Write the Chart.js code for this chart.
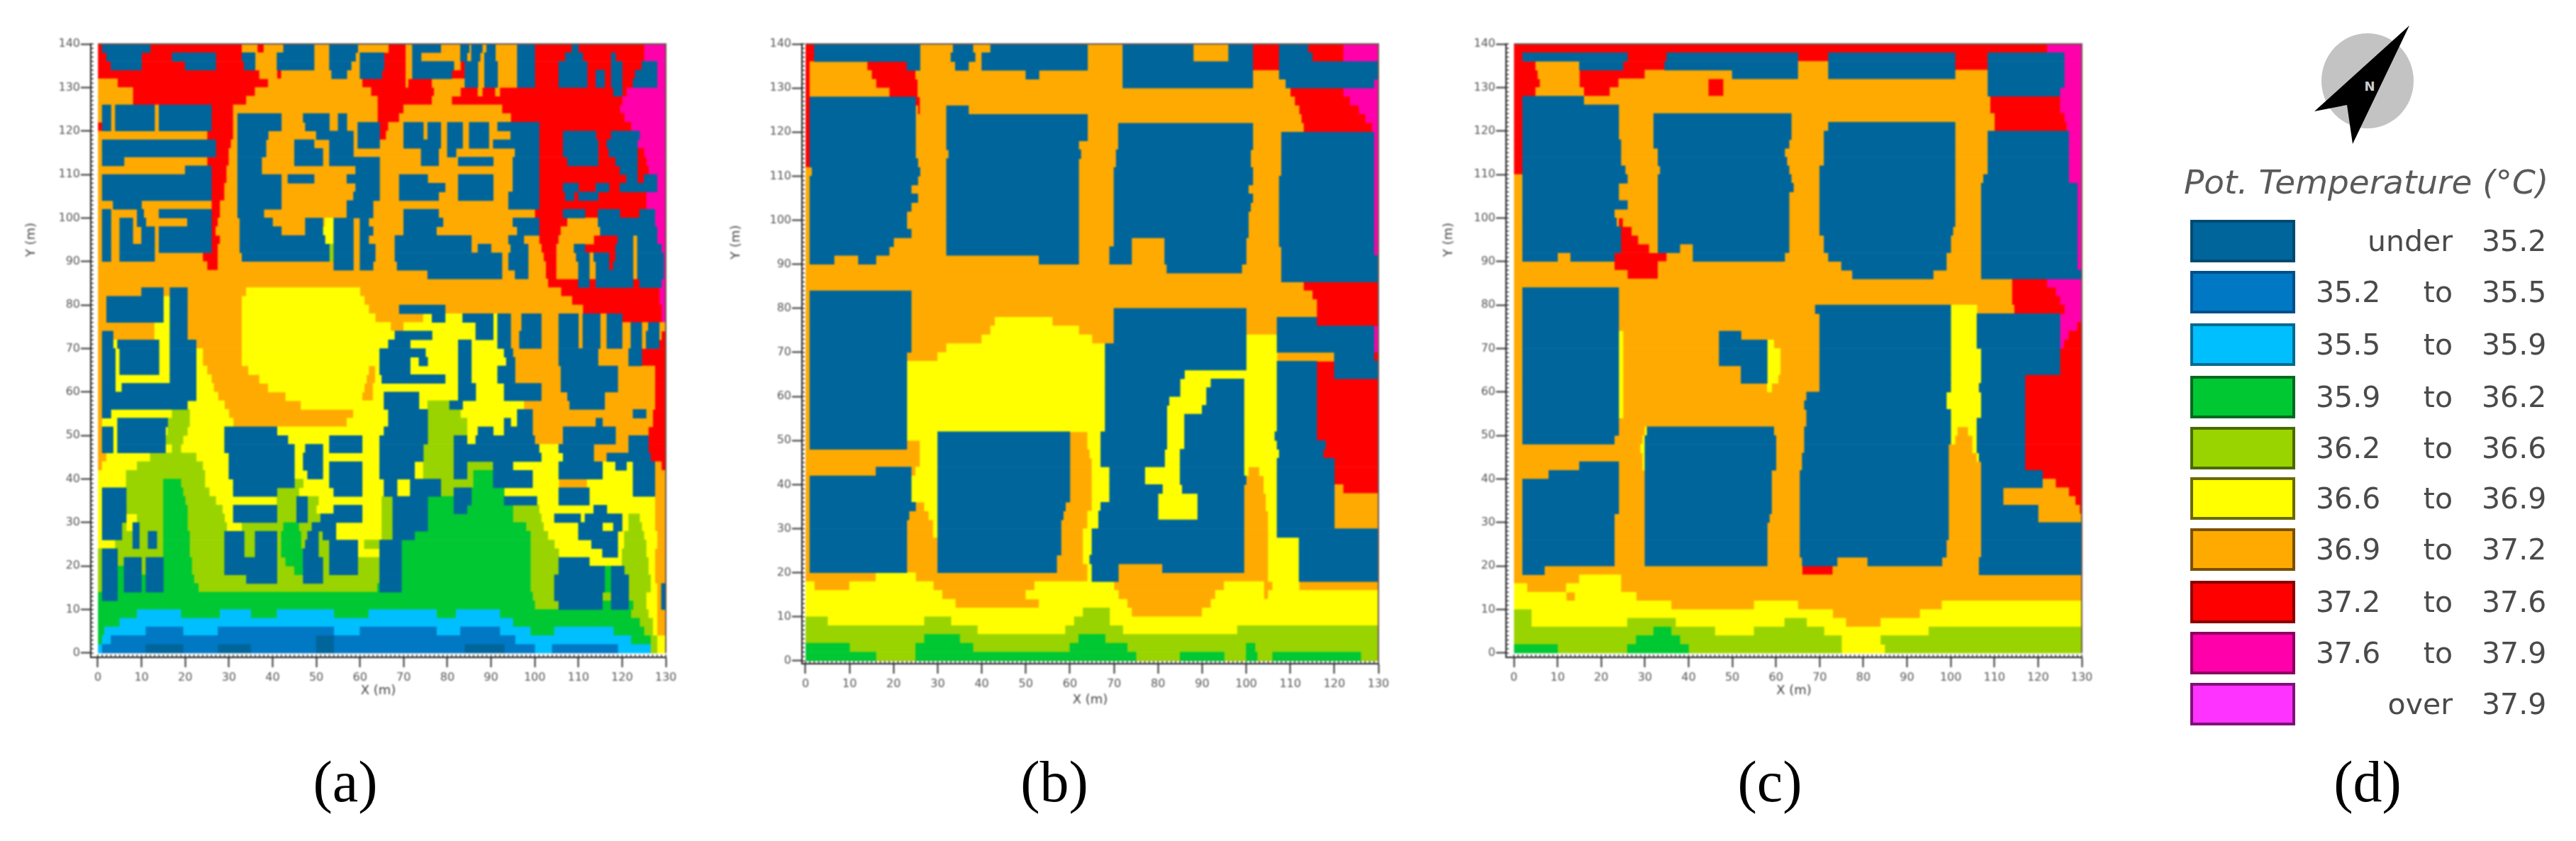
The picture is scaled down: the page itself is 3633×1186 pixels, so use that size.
<!DOCTYPE html>
<html>
<head>
<meta charset="utf-8">
<title>Pot. Temperature</title>
<script src="https://cdn.jsdelivr.net/npm/chart.js@4"></script>
<style>
  html, body { margin: 0; padding: 0; background: #fff; width: 3633px; height: 1186px; overflow: hidden; }
  canvas { position: absolute; top: 0; filter: blur(0.8px); }
  .cap { position: absolute; top: 1056px; font: 82px "Liberation Serif", serif; color: #000; transform: translateX(-50%); white-space: nowrap; }
  .txt { position: absolute; font: 41px "DejaVu Sans", sans-serif; color: #4a4a4a; white-space: nowrap; line-height: 50px; filter: blur(0.7px); }
  .sw { position: absolute; left: 3089px; width: 140px; height: 52px; border: 4px solid; }
  svg { position: absolute; left: 3240px; top: 20px; }
</style>
</head>
<body>
<canvas id="panelA" width="969" height="985" style="left:0px"></canvas>
<canvas id="panelB" width="971" height="998" style="left:1003px"></canvas>
<canvas id="panelC" width="970" height="985" style="left:1996px"></canvas>

<svg width="180" height="200" viewBox="3240 20 180 200">
  <ellipse cx="3339" cy="114" rx="65" ry="67" fill="#c3c3c3"/>
  <polygon points="3398,36 3318,203 3310,148 3264,157" fill="#000"/>
  <text x="3342" y="128" font-family="DejaVu Sans" font-weight="bold" font-size="18" fill="#ccc" text-anchor="middle">N</text>
</svg>

<script>
// temperature classes, one letter each, used by the rows below
const classKeys = ["B", "D", "C", "G", "L", "Y", "O", "R", "M", "P"];
const classColors = ["#00659b", "#0078c4", "#00bfff", "#00c832", "#99d400", "#ffff00", "#ffaa00", "#ff0000", "#ff00aa", "#ff33ff"];
const legendBorders = ["#004a70", "#00508a", "#006a90", "#006a20", "#4a6a00", "#6a6a00", "#7a5000", "#8a0000", "#8a0060", "#80107a"];
const legendLow = ["", "35.2", "35.5", "35.9", "36.2", "36.6", "36.9", "37.2", "37.6", ""];
const legendWord = ["under", "to", "to", "to", "to", "to", "to", "to", "to", "over"];
const legendHigh = ["35.2", "35.5", "35.9", "36.2", "36.6", "36.9", "37.2", "37.6", "37.9", "37.9"];
const legendTitle = "Pot. Temperature (°C)";

const xTicks = [0, 10, 20, 30, 40, 50, 60, 70, 80, 90, 100, 110, 120, 130];
const yTicks = [0, 10, 20, 30, 40, 50, 60, 70, 80, 90, 100, 110, 120, 130, 140];

// each row is 2 m high, top row first (y = 139 down to y = 1)
// "B0 R12" means class B from x=0 m, class R from x=12 m and so on
const rowsA = [
  "R0 B1 R12 O33 R36.5 O38 B42.5 O49.5 B53 O59.5 R66.5 O70.5 B72 O78.5 B83 O85 B85.5 O88 B89 O91 B96 R100 B108.5 R110 M125",
  "R0 B2 R10 B17 R27 B33 O36 B41 O49.5 B53 O59 B60 R65.5 O70.5 B72 O74 B83 O84.5 B85.5 O87.5 B88.5 O91 B96 R100 B107 R111 B117.5 R118.5 M125",
  "R0 B3 R10 B20 R27 B33.5 O36 B41 O49.5 B53 O58 B60 R65.5 O70.5 B72 O81.5 R83 B84 O87 B88.5 O91.5 B96 R100 B105.5 R112 B117.5 R120 B124.5 M128",
  "R0 O37 R41 O42 B53.5 O57 B60 R65 O70.5 B72 R81 B84 O87 B88.5 O91.5 B96 R100 B105.5 R112 B114 R116 B117.5 R120 B123 M128",
  "O0 R4.5 O39 R60.5 O70.5 R71 O76.5 B84 O87 B88.5 O91.5 B96 R100 B105.5 R112 B114 R116 B117.5 R120 B122.5 M128",
  "O0 R8 O36 R62.5 O77 R83 O87 R88 O91 R92 B118 R120 M121",
  "O0 R8 O34 R64 O76.5 R81 M120",
  "O0 B1 O3 B4 O13 B14 R26 O31 R64 O70 R92.5 M119.5",
  "O0 B1 O3 B4 O13 B14 R26 O31 B32 O42 B47 O53 B55 O57 R64 O69 R94.5 M120.5",
  "R0 B1 O3 B4 O13 B14 R26 O31 B32 O42 B47.5 O53 B55 O57 B59.5 R64.5 O66.5 B70 O74.5 B75.5 O78.5 B80 O83.5 B85 O89.5 B91.5 R101 M122",
  "O0 R25 O31 B32 O39 B50 O58.5 B59.5 R64.5 O66 B70 O74.5 B75.5 O78.5 B80 O83.5 B85 O89.5 B94.5 R101 B106.5 R114 B117.5 M124",
  "O0 B1 R27 O30.5 B32 O38.5 B45 O49.5 B53 O58.5 B59.5 O64.5 B70 O78.5 B80 O83.5 B85 O89.5 B90.5 R101 B106.5 R114.5 B116.5 M123.5",
  "O0 B1 R27 O30 B32 O38.5 B45 O51.5 B53 O58.5 B74 O78 B80 O82 B95.5 R101 B106.5 R114.5 B117 R123.5 M125",
  "O0 B1 O6 R25 O30 B32 O37.5 B45 O51.5 B53 O64.5 B74 O78 B82.5 O90.5 B95 R101 B107.5 R114.5 B118.5 R123.5 M125.5",
  "O0 B20 R26 O29.5 B32 O37.5 B59 O64.5 B95 R101 B119.5 R123.5 M126",
  "O0 B1 R26 O29.5 B32 O42 B43.5 O49.5 B57 O64.5 B69 O75.5 B82.5 O90.5 B95 R101 B121 R123.5 B125 M128",
  "O0 B1 R26 O29 B32 O42 B59 O64.5 B69 O79.5 B82.5 O90.5 B95 R101 B106.5 R110 B114 R117 B119.5 M128",
  "O0 B1 R26 O29 B32 O42 B58.5 O64.5 B69 O78 B82.5 O90.5 B94 R101 B107 R109 B110 R114.5 M125.5",
  "O0 B3.5 O10 R26 O28 B32 O42 B57 O63 B94 R101 M125.5",
  "O0 B1 O3 B9 O10.5 B14 R26 O28 B32 O38 B57 O63 B70 O78 R100 B106.5 R111.5 B114.5 R119.5 B124 M127.5",
  "O0 B1 O3 B5 O8 B9 O11 B20.5 R26 O27.5 B32.5 O40 B47.5 O51.5 Y52 B54 O58.5 B60 O62 B70 O79 B95 R101 O107.5 B114.5 M127.5",
  "O0 B1 O3 B5 O8 B10 O13 B14 R26 O27 B32.5 O42 B47.5 Y51.5 B54 O58.5 B60 O63 B70 O77.5 B96 R101 O106 B115 M128",
  "O0 B1 O3 B5 O8 B10 O13 B14 R26 O28 B32.5 Y52 B54 O58.5 B60 O62 B68 O85.5 B94 O97.5 R101 O105.5 R113.5 B119 O122.5 B123.5 M128",
  "O0 B1 O3 B5 O13 B14 R26 O27.5 B32.5 L53 B54 O58.5 B60 O63.5 B68 O85.5 B87 O90 B94.5 O98.5 R101.5 O105 B109 R111.5 B118.5 O122.5 B123.5 M129",
  "O0 B1 O3 B5 O13 R24 O27.5 B33 L53 B54 O58.5 B60 O63.5 B68 O92.5 B94 O98.5 R102 O105 B109.5 O112.5 B113.5 R117 B118.5 O122.5 B123.5 M129.5",
  "O0 R25 O27.5 B54 O58.5 B60 O63 B68.5 O92.5 B94 O98.5 R102.5 O105 B110 O112.5 B114 R117 B118 O122.5 B123.5 M129.5",
  "O0 B75.5 O92.5 B95.5 O98.5 R102.5 O105 B110 O112.5 B114 O122.5 B123.5 M129.5",
  "O0 R103 B110 R112.5 B114 R122.5 B124 M129",
  "O0 B10 O15 B16.5 O20.5 Y34 O60 R106 M128.5",
  "O0 B2 Y15 B16.5 O20.5 Y33 O61 R108.5 M128.5",
  "O0 B2 Y15 B16.5 O20.5 Y33 O62 B69 O79.5 R111 M129",
  "O0 B2 Y15 B16.5 O20.5 Y33 O63.5 Y74.5 B76.5 Y79.5 B83.5 Y90.5 B91.5 O94.5 B97 O101.5 B105.5 O110 B111 O115 B116.5 R120 M129",
  "O0 Y13 B16.5 O20.5 Y33 O67 Y70 B86.5 Y90.5 B91.5 O94.5 B97 O101.5 B105.5 O110 B111 O115 B116.5 O120 B122 O124.5 B126 O128.5",
  "O0 B1 O3.5 Y13 B16.5 O20.5 Y33 B68 Y76.5 B86.5 Y90.5 B91.5 O94.5 B96.5 O101.5 B105.5 O110 B111 O115 B116.5 O120 B122 O124.5 B125.5 O128.5 R129",
  "O0 B1 Y3.5 B4.5 Y14 B16.5 O22.5 Y33 B66.5 Y71.5 B82.5 Y85.5 B91.5 O94.5 B96.5 O101.5 B105.5 O110 B111 O115 B116.5 O120 B122 O124.5 B125.5 R128.5",
  "O0 B1 Y4 B5 Y14 B16.5 Y22.5 O24 Y33 B64.5 Y75 B82.5 Y85.5 B93 O95 B105.5 O114.5 B121.5 R124.5",
  "O0 B1 Y4 B5 Y14 B16.5 Y22.5 O24 Y33 B64.5 Y71.5 B73.5 Y75.5 B82.5 Y85.5 B93.5 O95.5 B105.5 O114.5 B121.5 R124.5",
  "O0 B1 Y4 B5 Y14 B16.5 Y22.5 O25 Y34.5 O62 Y63.5 B64.5 Y71.5 B82.5 Y85.5 B91.5 O95.5 B106 O119 R127.5",
  "O0 B1 Y4 B16.5 Y22.5 O26 Y37 O61.5 Y63.5 B65 Y79.5 B82.5 Y85.5 B91.5 O95.5 B106 O119 R127.5",
  "O0 B1 Y4 B5.5 Y22.5 O26.5 Y39 O61 Y63 B82.5 Y86.5 B93 O101.5 B106 O119 R127.5",
  "O0 B1 Y22.5 O27.5 Y43 O60.5 Y63 B65.5 Y73.5 B82.5 Y86.5 B93 O101.5 B107.5 O116 R127.5",
  "O0 B1 Y20.5 O29 Y46.5 B65.5 Y73.5 L75.5 B80.5 Y83.5 O97.5 B108 O116 R127.5",
  "O0 B1 Y3 L17 Y21 O30 Y58.5 B66.5 L75.5 Y83 B96 O99.5 B122.5 O125.5 R127",
  "O0 Y1 B4.5 L16 Y21 O31 Y57 B66.5 L75.5 Y84.5 B93 Y94.5 B96 O99.5 B114 O115.5 R127",
  "O0 B1 Y3.5 B4.5 Y15.5 L16 Y20.5 B29 Y41 B65.5 L75.5 Y84.5 B87 Y90.5 B93 O99.5 B106.5 O118.5 R126",
  "O0 B1 Y3.5 B4.5 L15.5 Y19.5 B29 Y43.5 B53 Y60.5 B64.5 L75.5 B81.5 Y84.5 B86.5 O100 B106.5 O118.5 B121.5 R126",
  "O0 B1 Y3.5 B4.5 Y15.5 L17 Y19 B29 Y45 B47.5 Y51.5 B53 Y60.5 B64.5 L74.5 B81.5 Y101 B105.5 O113.5 B121.5 R126",
  "O0 Y2 L12 Y22.5 B30 Y45 B47 Y51.5 B64.5 L74.5 B81.5 Y101.5 B106.5 O113.5 B116.5 R126.5",
  "O0 Y1 L9 Y24 B30 Y45 B47 Y51.5 B53 Y60.5 B64.5 Y72.5 L74.5 B81.5 L84.5 B90.5 Y95 B105.5 Y115.5 B118.5 Y121 B122.5 O127.5 R129",
  "Y0 L6.5 Y24.5 B30 Y45 B48 Y51.5 B53 Y60.5 B64.5 Y72.5 L74.5 B81.5 L84.5 G86 B90.5 Y99.5 B105.5 Y115.5 B122.5 O127.5",
  "Y0 L6.5 G15 L19 Y24.5 B31 L45 Y47 B53 Y60.5 B65.5 Y68.5 B71.5 L78.5 G86 B90.5 Y99.5 O105.5 Y112 B122.5 O127.5",
  "Y0 B1 L6.5 G15 L19.5 Y25.5 B31 L41 Y46 B54 Y60.5 B65.5 Y68.5 B71.5 L78.5 B81.5 G85.5 Y93 B105.5 Y112.5 B122.5 O127.5",
  "Y0 B1 L6.5 G15 L20 Y27 L41 B45.5 L48 Y50.5 L65 B67.5 G75.5 B81.5 G85.5 B93 Y100.5 B105.5 Y112.5 O127.5",
  "Y0 B1 L6.5 G15 L20.5 Y28.5 B31 L41 B45.5 L48 Y50 B54 Y60.5 L65 B67.5 G75.5 B81.5 G84.5 L95 Y101 B113.5 Y116.5 O127.5",
  "Y0 B1 Y6.5 L9 G15 L20.5 Y29 B31 L41 B45.5 L48 B51 Y60.5 L65 B67.5 G75.5 L95 Y101.5 B104.5 Y110.5 B111.5 Y120 L121.5 Y124 O127.5",
  "Y0 B1 L5.5 Y6.5 B8 L9.5 G15 L20.5 Y29.5 L33 G42.5 L46 B49 Y54.5 L65 B67.5 G75.5 L98 Y102 B110 Y115.5 B118 Y120 L121.5 Y124.5 O127.5",
  "Y0 B1 L5.5 B8 L9.5 B11.5 L13.5 G15 L21 B29 L33.5 B36 L41 G42 L46.5 B48 L50.5 B51.5 Y54.5 L65 B67.5 G72.5 L99 Y103 B110 Y119 L120.5 Y125 O128",
  "Y0 L4 B8 L9.5 B11.5 L13.5 G15 L21 B29 L33.5 B36 L41 G42 L46.5 B47.5 L50.5 B53 Y59.5 L61 B64.5 G69.5 L99 Y104.5 B113 Y119 L120.5 Y125.5 O128",
  "L0 B1 L4.5 G15 L21 B29 L33.5 B36 L41 G42 B47 L50.5 B53 Y59.5 B64.5 G69.5 L99 Y105.5 B115.5 Y119 L120 Y125.5 O127.5",
  "L0 B1 L4.5 B6 L10 B11 G15 L21.5 B29 L41 G43 B47 L51.5 B53 L59.5 B64.5 G69.5 L99 B105.5 Y112.5 L120 Y126 O127.5",
  "L0 B1 G4.5 B6 L10 B11 G15 L21.5 B29 L41 G45 B47 L51.5 B53 L59.5 B64.5 G69.5 L99 B105.5 G116 B117.5 L120.5 Y126 O127.5",
  "L0 B1 G4.5 B6 G10 B11 G15 L22 B34 L41 B47 L51.5 B64.5 G69.5 L99 B104.5 G116 B117.5 L121.5 Y126.5 O127.5",
  "L0 B1 G4.5 B6 G10 B11 G15 L23 G64 B64.5 G69.5 L99 B104.5 G116 B117.5 L121.5 Y126.5 O128 B129",
  "G0 B1 G4.5 L99.5 B104.5 L115.5 B117.5 L121.5 Y125.5 O128 B129",
  "G0 L100 B105.5 G115.5 B117.5 G121.5 L122.5 Y125.5 O128 B129",
  "G0 C9 G19 C28 G35 C41 G54 C62 G77.5 C82 G92 L122 Y126 O128",
  "G0 C5 G95 L124 Y127 O128",
  "G0 C1.5 D11 C19.5 D27.5 C54 D60 C77.5 D83 C92 G99 C104.5 G118 L125 Y127 O128",
  "G0 C1 D3 B50 D54 C95.5 G122 L126.5 Y128",
  "C0 D1 B11 D19.5 B27.5 D35 B50 D54 B84 D93 C100 D104 C119 L126.5 Y128",
];

const rowsB = [
  "R0 B2 O26 B33.5 O38 B42 O64 B72 O88 B96 R101.5 B107.5 R114 M122",
  "R0 B2 O26 B33 O38.5 B40 O64 B72 O88 B96 R101.5 B107.5 R115 M122",
  "R0 O1 R14 B23 O26 B34 O37 B40 O64 B72 R101.5 B107.5",
  "R0 O1 R15 O25 B50 O53 B72 O101.5 B107.5",
  "R0 O1 R16 O25.5 B72 O101.5 B109 M129",
  "R0 O1 R19 O25.5 R110 M122",
  "R0 B1 R25 O26 R111 M123.5",
  "R0 B1 O25 R25.5 O26 B32 O37 R112 M125.5",
  "R0 B1 O25 B32 O64 R112.5 M127",
  "R0 B1 O25 B32 O64 B71 O101.5 R113 M128.5",
  "R0 B1 O25 B32 O64 B71 O101.5 B108 M129",
  "R0 B1 O25 B32 O62 B71 O101.5 B108 M129",
  "R0 B1 O25 B32.5 O62.5 B70.5 O101 B108 M129",
  "R0 B1 O25.5 B32 O62 B70.5 O101 B108 M129",
  "O0 B1.5 O26 B32 O62 B70 O101.5 B108 M129",
  "O0 B1 O25.5 B32 O62 B70 O101.5 B107.5 M129",
  "O0 B1 O24 B32 O62 B70 O100.5 B107.5 M129",
  "O0 B1 O25.5 B32 O62 B70 O101.5 B107.5 M129",
  "O0 B1 O24 B32 O62 B70 O101 B107.5 M129",
  "O0 B1 O23 B32 O62 B70 O100.5 B107.5 M129",
  "O0 B1 O23 B32 O62 B70 O100.5 B107.5 M129",
  "O0 B1 O24 B32 O62 B70 O100.5 B107.5 M129",
  "O0 B1 O20 B32 O62 B70 O74 B81.5 O100 B107.5 M129",
  "O0 B1 O19 B32 O62 B69 O74 B81.5 O100 B108 M129",
  "O0 B1 O6.5 B12 O16 B53 O62 B69 O74 B81.5 O100 B108",
  "O0 B82 O99 B108",
  "O0 B108",
  "O0 R113",
  "O0 B1 O24 R115",
  "O0 B1 O24 R116",
  "O0 B1 O24 B70 O100 R116",
  "O0 B1 O24 Y43 O56 B70 O100 B107 R116",
  "O0 B1 O24 Y42 O62 B70 O100 B107 M129",
  "O0 B1 O24 Y40 O65 B70 Y100 B107 M129",
  "O0 B1 O24 Y32 B68 Y100 B107 M129",
  "O0 B1 O23 Y30 B68 Y100 O107 B120 R129",
  "O0 B1 Y23 B68 Y100 B107 R116 B120",
  "O0 B1 Y23 B68 Y86 B107 R116 B120",
  "O0 B1 Y23 B68 Y85 B92 Y99.5 B107 R116",
  "O0 B1 Y23 B68 Y85 B91 Y99.5 B107 R116",
  "O0 B1 Y23 B68 Y82.5 B91 Y99.5 B107 R116",
  "O0 B1 Y23 B68 Y82 B90 Y99.5 B107 R116",
  "O0 B1 Y23 B68 Y82 B86 Y99.5 B107 R116",
  "O0 B1 Y23 B68 Y82 B86 Y99.5 B107 R116",
  "O0 B1 Y23 B30 O60 Y64 B67 Y82 B86 Y99.5 B106.5 R116",
  "O0 B1 O23 Y26 B30 O60 Y64 B67 Y82 B86 Y99.5 B107 R118",
  "O0 Y26 B30 O60 Y64.5 B67 Y81.5 B85 Y99.5 B107.5 R117.5",
  "O0 Y26 B30 O60 Y65 B67 Y81.5 B85 Y99.5 B107 R120",
  "O0 B16 O24 Y25 B30 O60 Y65 B69 Y77 B85 Y99.5 O100.5 Y103 B107 R120",
  "O0 B1 Y24 B30 O60 Y65 B69 Y77 B85 O100 Y104 B107 R120",
  "O0 B1 Y24 B30 O60 Y65 B69 Y81 B85.5 O99.5 Y104 B107 O120 R122",
  "O0 B1 Y24 B30 O60 Y65 B69 Y80 B89 O99.5 Y104.5 B107 O120",
  "O0 B1 O25 Y27 B30 O59 Y65 B67 Y80 B89 O99.5 Y104.5 B107 O120",
  "O0 B1 O23.5 Y28 B30 O58.5 Y64 B66.5 Y80 B89 O99.5 Y105 B107 O120",
  "O0 B1 O23 Y29 B30 O58 Y64 B66.5 O99.5 Y105 B107 O120",
  "O0 B1 O23 Y29 B30 O58 Y63 B65 O99.5 Y105 B107",
  "O0 B1 O23 B30 O58 Y63 B65 O99.5 Y105 B112",
  "O0 B1 O23 B30 O58 Y63 B65 O99.5 Y105 B112",
  "O0 B1 O23 B30 O57 Y63 B64.5 O99.5 Y105 B112",
  "O0 B1 O23 B30 O57 Y64 B65 O71 B81 O99.5 Y105 B112",
  "O0 Y16 O25 Y64 B65 O71 Y105 B112",
  "Y0 O2 Y10 O29 Y52 O70 Y95 O104 Y106 O112",
  "Y0 O31 Y50 O71 Y93 O104 Y105",
  "Y0 O34 Y53 O73 Y92",
  "Y0 L63 Y69 O74 Y90",
  "L0 Y5 L27 Y33 L61 Y69",
  "L0 Y39 L59 Y72 L98",
  "L0 G27 L35 G62 L68",
  "G0 L10 G25 L38 G60 L73 G100 L102",
  "G0 L16 G25 L75 G85 L95 G100 L102.5 G106 L126",
];

const rowsC = [
  "R0 M122",
  "R0 B2 R26 B35 R65 B72 R101 B108.5 M126",
  "R0 O5 B15 R25 B34.5 O65 B72 R101 B108.5 M126",
  "R0 O5.5 R15 O30 B50 O65 B72 O101 B108.5 M126",
  "R0 O6 R15 O24 R44.5 O48 B108.5 M126",
  "R0 O5 R16 O22 R44.5 O48 B108.5 M125",
  "R0 B2 O16 R109 M125",
  "R0 B2 O24 R109 M125",
  "R0 B2 O24 B32 O63.5 R110 M126",
  "R0 B2 O24 B32 O63.5 B72 O101 R110 M126.5",
  "R0 B2 O24 B32 O63.5 B71 O101 B108.5 M127",
  "R0 B2 O24.5 B32 O63 B71 O101 B108.5 M127",
  "R0 B2 O24.5 B33 O62 B71 O101 B108.5 M127",
  "R0 B2 O24.5 B33 O62.5 B71 O101 B108.5 M127",
  "R0 B2 O25.5 B33.5 O63 B70 O101 B108.5 M127",
  "O0 B2 O26 B33 O63.5 B70 O101 B107.5 M127",
  "O0 B2 O24 B33 O64 B70 O101 B107 M129",
  "O0 B2 O24 B33 O63 B70 O101 B107 M129",
  "O0 B2 O26 B33 O63 B70 O101 B107 M129",
  "O0 B2 O23 B33 O63 B70 O101 B107 M129",
  "O0 B2 O23.5 R24 O25 B33 O63 B70 O101 B107 M129",
  "O0 B2 R24.5 O27 B33 O63 B70 O100.5 B107 M129",
  "O0 B2 R24.5 O28.5 B33 O63 B71 O100 B107 M129",
  "O0 B2 R24.5 O31 B33 O38 B41 O63 B71 O100 B107 M129",
  "O0 B2 O10 B13 R23 O35 B41 O62 B72 O99 B107 M129",
  "O0 R23 O33 B75 O99 B107 M129",
  "O0 R26 O33 B77.5 O96 B107",
  "O0 R114 M122",
  "O0 B2 O24 R114 M124",
  "O0 B2 O24 R114 M125",
  "O0 B2 O24 B69 Y100 O106 R114.5 M126",
  "O0 B2 O24 B70 Y100 B106 M125",
  "O0 B2 O24 B70 Y100 B106 M125 R129",
  "O0 B2 Y24 O25 B47 O52 B70 Y100 B106 M125 R127",
  "O0 B2 Y24 O25 B47 Y58 O59.5 B70 Y100 B106 M125 R126",
  "O0 B2 Y24 O25 B47 Y58 O61 B70 Y100 B107 R125",
  "O0 B2 Y24 O25 B47 Y58 O61 B70 Y100 B107 R125",
  "O0 B2 Y24 O25 B52 Y58 O61 B70 Y100 B107 R125",
  "O0 B2 Y24 O25 B52 Y58 O60.5 B70 Y100 B107 R117",
  "O0 B2 Y24 O25 Y58 O59 B70 Y100 B106.5 R117",
  "O0 B2 Y24 O25 B67 Y99 B107 R117",
  "O0 B2 Y24 O25 B66.5 Y99 B107 R117",
  "O0 B2 Y24 O25 B67 Y100 B107 R117",
  "O0 B2 O24 B67 Y100 B106 R117",
  "O0 B2 O24 Y30 B30.5 O59.5 B66.5 Y100 O101.5 Y104 B106 R117",
  "O0 B2 O23 Y29.5 B30 O60 B66.5 Y100 O101 Y105 B106 R117",
  "O0 Y29 B30 O60 B66.5 O99.5 Y105 B106 R117",
  "O0 Y29.5 B30 O60 B66 O99.5 Y106 B106.5 R117",
  "O0 B15 O24 Y29.5 B30 O60 B66 O99.5 B107 R117",
  "O0 B8 O24 B30 O59 B65.5 O99.5 B107 R121",
  "O0 B2 O24 B30 O59 B65.5 O99.5 B107 O121 R124",
  "O0 B2 O24 B30 O59 B65.5 O99.5 B107 O112 R127",
  "O0 B2 O24 B30 O59 B65.5 O99.5 B107 O112 R128.5",
  "O0 B2 O24 B30 O59 B65.5 O99.5 B107 O120 R129.5",
  "O0 B2 O23 B30 O58.5 B65.5 O99.5 B107 O120",
  "O0 B2 O23 B30 O58 B65.5 O99.5 B107",
  "O0 B2 O23 B30 O58 B65.5 O99.5 B107",
  "O0 B2 O23 B30 O58 B65.5 O99 B107",
  "O0 B2 O23 B30 O58 B65.5 O99 B107",
  "O0 B2 O23 B30 O58 B66 O74 B81 O98 B106.5",
  "O0 B2 O7 R66 O73 B106.5",
  "O0 Y15 O24.5",
  "Y0 O3 Y12 O24.5",
  "Y0 O12 Y14 O28",
  "Y0 O36 Y55 O65 Y98",
  "L0 Y4 O73 Y93",
  "L0 Y4 L26 Y37 L62 Y67 O76 Y84",
  "L0 G32 L36 Y46 L55 Y71 L95",
  "L0 G28 L38 Y75 L84",
  "G0 L10 G26 L40 Y75 L85",
];

const xEnd = 130;

// one dataset per class, each run of a row is a floating horizontal bar
function datasetsFrom(rows) {
  const runs = {};
  classKeys.forEach((k) => (runs[k] = []));
  rows.forEach((row, i) => {
    const y = 139 - i * 2;
    const parts = [...row.matchAll(/([A-Z])([\d.]+)/g)];
    parts.forEach((p, j) => {
      const from = parseFloat(p[2]);
      const to = j + 1 < parts.length ? parseFloat(parts[j + 1][2]) : xEnd;
      runs[p[1]].push({ x: [from, to], y: y });
    });
  });
  return classKeys.map((k, i) => ({
    label: k,
    data: runs[k],
    backgroundColor: classColors[i],
    borderWidth: 0,
    barPercentage: 1,
    categoryPercentage: 1,
    grouped: false,
  }));
}

// small ticks every metre, the thin frame and the Y title that sits above the middle
const panelExtras = {
  id: "panelExtras",
  afterDraw(chart, args, opts) {
    const { ctx, chartArea, scales } = chart;
    ctx.save();
    ctx.strokeStyle = "#333";
    ctx.lineWidth = 1.5;
    for (let i = 0; i <= 130; i++) {
      const px = scales.x.getPixelForValue(i);
      ctx.beginPath();
      ctx.moveTo(px, chartArea.bottom);
      ctx.lineTo(px, chartArea.bottom - 4);
      ctx.stroke();
    }
    for (let i = 0; i <= 140; i++) {
      const py = scales.y.getPixelForValue(i);
      ctx.beginPath();
      ctx.moveTo(chartArea.left, py);
      ctx.lineTo(chartArea.left + 4, py);
      ctx.stroke();
    }
    ctx.strokeStyle = "#6b5a50";
    ctx.lineWidth = 2;
    ctx.beginPath();
    ctx.moveTo(scales.x.getPixelForValue(0), chartArea.top);
    ctx.lineTo(chartArea.right, chartArea.top);
    ctx.lineTo(chartArea.right, scales.y.getPixelForValue(0));
    ctx.stroke();
    ctx.translate(opts.titleX, scales.y.getPixelForValue(95));
    ctx.rotate(-Math.PI / 2);
    ctx.fillStyle = "#444";
    ctx.font = '18px "DejaVu Sans"';
    ctx.textAlign = "center";
    ctx.textBaseline = "middle";
    ctx.fillText("Y (m)", 0, 0);
    ctx.restore();
  },
};

function drawPanel(id, rows, xMin, yMin, scaleHeight, titleX) {
  new Chart(document.getElementById(id), {
    type: "bar",
    data: { datasets: datasetsFrom(rows) },
    plugins: [panelExtras],
    options: {
      indexAxis: "y",
      responsive: false,
      animation: false,
      events: [],
      devicePixelRatio: 1,
      layout: { padding: { top: 62, right: 30, left: 0, bottom: 0 } },
      plugins: { legend: { display: false }, tooltip: { enabled: false }, panelExtras: { titleX: titleX } },
      scales: {
        x: {
          type: "linear",
          min: xMin,
          max: 130,
          afterFit: (s) => { s.height = scaleHeight; },
          afterBuildTicks: (s) => { s.ticks = xTicks.map((v) => ({ value: v })); },
          grid: { drawOnChartArea: false, tickLength: 14, tickColor: "#333", tickWidth: 2 },
          border: { color: "#222", width: 2 },
          ticks: { color: "#555", font: { family: "DejaVu Sans", size: 16 }, padding: 5, maxRotation: 0, autoSkip: false, callback: (v) => v },
          title: { display: true, text: "X (m)", color: "#444", font: { family: "DejaVu Sans", size: 18 }, padding: 0 },
        },
        y: {
          type: "linear",
          min: yMin,
          max: 140,
          offset: false,
          afterFit: (s) => { s.width = 128; },
          afterBuildTicks: (s) => { s.ticks = yTicks.map((v) => ({ value: v })); },
          grid: { drawOnChartArea: false, offset: false, tickLength: 14, tickColor: "#333", tickWidth: 2 },
          border: { color: "#222", width: 2 },
          ticks: { color: "#555", font: { family: "DejaVu Sans", size: 16 }, padding: 1, autoSkip: false, callback: (v) => v },
        },
      },
    },
  });
}

drawPanel("panelA", rowsA, -1.62, -0.98, 58, 44);
drawPanel("panelB", rowsB, -0.8, -0.65, 62, 35);
drawPanel("panelC", rowsC, -1.79, -0.98, 58, 47);

// legend and captions are plain text on the page
function addText(cls, text, style) {
  const el = document.createElement("div");
  el.className = cls;
  el.textContent = text;
  Object.assign(el.style, style);
  document.body.appendChild(el);
}

const legendCenters = [340, 412, 486, 560, 632, 703, 775, 849, 921, 993];
classColors.forEach((color, i) => {
  const sw = document.createElement("div");
  sw.className = "sw";
  sw.style.top = legendCenters[i] - 30 + "px";
  sw.style.background = color;
  sw.style.borderColor = legendBorders[i];
  document.body.appendChild(sw);
  const top = legendCenters[i] - 25 + "px";
  if (legendLow[i]) addText("txt", legendLow[i], { left: "3266px", top: top });
  addText("txt", legendWord[i], { right: 3633 - 3459 + "px", top: top });
  addText("txt", legendHigh[i], { left: "3500px", top: top });
});
addText("txt", legendTitle, { left: "3080px", top: "232px", fontStyle: "italic", color: "#5a5a5a", fontSize: "47px" });

addText("cap", "(a)", { left: "487px" });
addText("cap", "(b)", { left: "1487px" });
addText("cap", "(c)", { left: "2496px" });
addText("cap", "(d)", { left: "3339px" });
</script>
</body>
</html>
